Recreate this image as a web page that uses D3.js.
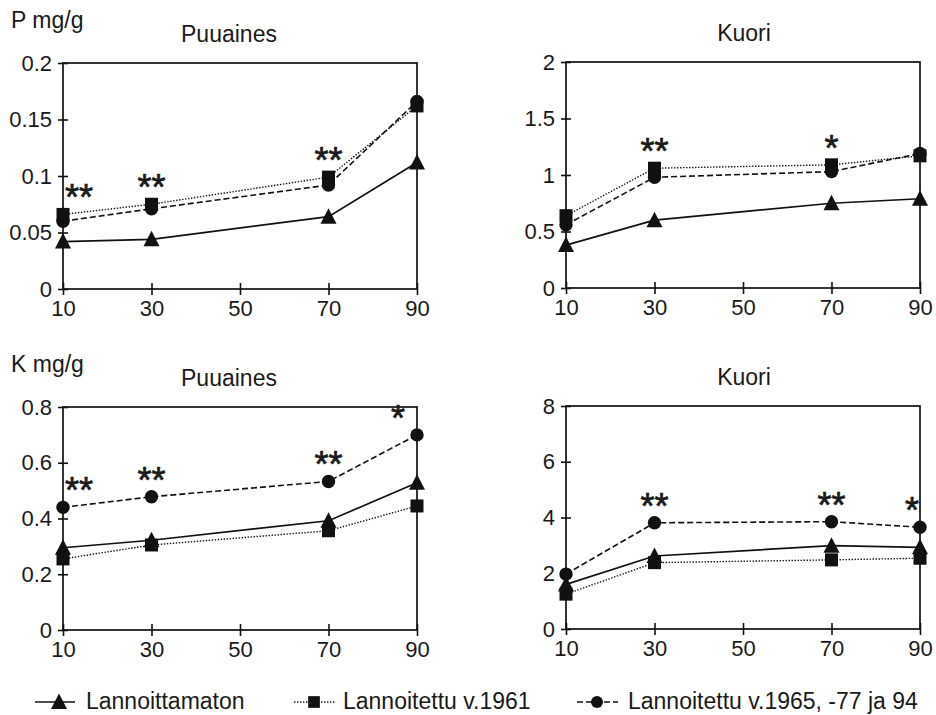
<!DOCTYPE html>
<html>
<head>
<meta charset="utf-8">
<script src="https://cdn.jsdelivr.net/npm/d3@7"></script>
<style>
  body { margin: 0; background: #fff; }
  text { font-family: "Liberation Sans", Arial, sans-serif; fill: #1a1a1a; }
</style>
</head>
<body>
<script>
// ---------------- DATA ----------------
const depths = [10, 30, 70, 90];
const xTicks = [10, 30, 50, 70, 90];
const seriesNames = ["Lannoittamaton", "Lannoitettu v.1961", "Lannoitettu v.1965, -77 ja 94"];
const panelTitles = ["Puuaines", "Kuori", "Puuaines", "Kuori"];
const unitLabels = ["P mg/g", "K mg/g"];

// P, wood (Puuaines)
const pWoodUnfert = [0.042, 0.044, 0.064, 0.112];
const pWood1961   = [0.066, 0.075, 0.099, 0.162];
const pWood1965   = [0.060, 0.071, 0.092, 0.166];
const pWoodTicks  = [0, 0.05, 0.1, 0.15, 0.2];
const pWoodSig    = ["**", "**", "**", ""];

// P, bark (Kuori)
const pBarkUnfert = [0.38, 0.60, 0.75, 0.79];
const pBark1961   = [0.64, 1.06, 1.09, 1.17];
const pBark1965   = [0.56, 0.98, 1.03, 1.19];
const pBarkTicks  = [0, 0.5, 1, 1.5, 2];
const pBarkSig    = ["", "**", "*", ""];

// K, wood (Puuaines)
const kWoodUnfert = [0.295, 0.322, 0.392, 0.528];
const kWood1961   = [0.255, 0.305, 0.356, 0.445];
const kWood1965   = [0.440, 0.478, 0.533, 0.700];
const kWoodTicks  = [0, 0.2, 0.4, 0.6, 0.8];
const kWoodSig    = ["**", "**", "**", "*"];

// K, bark (Kuori)
const kBarkUnfert = [1.60, 2.62, 2.99, 2.93];
const kBark1961   = [1.25, 2.38, 2.48, 2.54];
const kBark1965   = [1.97, 3.81, 3.85, 3.65];
const kBarkTicks  = [0, 2, 4, 6, 8];
const kBarkSig    = ["", "**", "**", "*"];

// ---------------- LAYOUT ----------------
const W = 936, H = 715;
const layouts = [
  { left: 63,  top: 63,  right: 417, bottom: 289, titleX: 229, unit: unitLabels[0], sigDx90: -14 },
  { left: 566, top: 62,  right: 920, bottom: 288, titleX: 744, unit: null,          sigDx90: -12 },
  { left: 63,  top: 407, right: 417, bottom: 630, titleX: 229, unit: unitLabels[1], sigDx90: -19 },
  { left: 566, top: 406, right: 920, bottom: 629, titleX: 744, unit: null,          sigDx90: -8 }
];
const panelData = [
  { series: [pWoodUnfert, pWood1961, pWood1965], ticks: pWoodTicks, sig: pWoodSig },
  { series: [pBarkUnfert, pBark1961, pBark1965], ticks: pBarkTicks, sig: pBarkSig },
  { series: [kWoodUnfert, kWood1961, kWood1965], ticks: kWoodTicks, sig: kWoodSig },
  { series: [kBarkUnfert, kBark1961, kBark1965], ticks: kBarkTicks, sig: kBarkSig }
];

const styles = [
  { dash: null,      width: 1.7, marker: "triangle" },
  { dash: "1.4,1.6", width: 1.4, marker: "square" },
  { dash: "6,3",     width: 1.6, marker: "circle" }
];
const ink = "#111";

function drawMarker(g, type, x, y, s) {
  if (type === "triangle") {
    g.append("path")
      .attr("d", `M${x},${y - 8.5*s} L${x + 8*s},${y + 7*s} L${x - 8*s},${y + 7*s} Z`)
      .attr("fill", ink);
  } else if (type === "square") {
    g.append("rect").attr("x", x - 6.5*s).attr("y", y - 6.5*s)
      .attr("width", 13*s).attr("height", 13*s).attr("fill", ink);
  } else {
    g.append("circle").attr("cx", x).attr("cy", y).attr("r", 6.7*s).attr("fill", ink);
  }
}

const svg = d3.select("body").append("svg").attr("width", W).attr("height", H);
svg.append("rect").attr("width", W).attr("height", H).attr("fill", "#fff");

layouts.forEach((L, i) => {
  const P = panelData[i];
  const x = d3.scaleLinear().domain([10, 90]).range([L.left, L.right]);
  const y = d3.scaleLinear().domain([0, d3.max(P.ticks)]).range([L.bottom, L.top]);
  const g = svg.append("g");

  // title
  g.append("text").attr("x", L.titleX).attr("y", L.top - 21)
    .attr("text-anchor", "middle").attr("font-size", 23).text(panelTitles[i]);
  if (L.unit) {
    g.append("text").attr("x", 11).attr("y", L.top - 35)
      .attr("font-size", 23).text(L.unit);
  }

  // frame
  g.append("rect").attr("x", L.left).attr("y", L.top)
    .attr("width", L.right - L.left).attr("height", L.bottom - L.top)
    .attr("fill", "none").attr("stroke", ink).attr("stroke-width", 1.7);

  // y axis
  const ya = g.append("g").attr("transform", `translate(${L.left},0)`)
    .call(d3.axisLeft(y).tickValues(P.ticks).tickFormat(d => String(d)).tickSize(5).tickPadding(6));
  ya.select(".domain").remove();
  ya.selectAll(".tick line").attr("x1", 5).attr("x2", -5).attr("stroke", ink).attr("stroke-width", 1.6);
  ya.selectAll(".tick text").attr("font-size", 22).attr("font-family", "Liberation Sans, Arial, sans-serif").attr("fill", "#1a1a1a");

  // x axis
  const xa = g.append("g").attr("transform", `translate(0,${L.bottom})`)
    .call(d3.axisBottom(x).tickValues(xTicks).tickFormat(d => String(d)).tickSize(6).tickPadding(5));
  xa.select(".domain").remove();
  xa.selectAll(".tick line").attr("y1", -6).attr("y2", 6).attr("stroke", ink).attr("stroke-width", 1.6);
  xa.selectAll(".tick text").attr("font-size", 22).attr("font-family", "Liberation Sans, Arial, sans-serif").attr("fill", "#1a1a1a");

  // lines
  const line = d3.line().x((d, j) => x(depths[j])).y(d => y(d));
  P.series.forEach((vals, s) => {
    const st = styles[s];
    g.append("path").datum(vals).attr("d", line)
      .attr("fill", "none").attr("stroke", ink).attr("stroke-width", st.width)
      .attr("stroke-dasharray", st.dash);
  });
  // markers
  [0, 2, 1].forEach(s => {
    P.series[s].forEach((v, j) => drawMarker(g, styles[s].marker, x(depths[j]), y(v), 1));
  });

  // significance stars
  P.sig.forEach((txt, j) => {
    if (!txt) return;
    const top = d3.max(P.series, ser => ser[j]);
    let dx = 0;
    if (depths[j] === 10) dx = 16;
    if (depths[j] === 90) dx = L.sigDx90;
    const cy = y(top) - 24;
    g.append("text").attr("x", x(depths[j]) + dx).attr("y", cy + 20)
      .attr("text-anchor", "middle").attr("font-size", 36)
      .attr("stroke", "#1a1a1a").attr("stroke-width", 0.7).text(txt);
  });
});

// legend
const legendItems = [
  { lx1: 35,  lx2: 75,  mx: 59,  tx: 86 },
  { lx1: 294, lx2: 335, mx: 314, tx: 343 },
  { lx1: 577, lx2: 618, mx: 597, tx: 628 }
];
const ly = 702;
legendItems.forEach((it, s) => {
  const st = styles[s];
  svg.append("line").attr("x1", it.lx1).attr("x2", it.lx2).attr("y1", ly).attr("y2", ly)
    .attr("stroke", ink).attr("stroke-width", st.width).attr("stroke-dasharray", st.dash);
  drawMarker(svg, st.marker, it.mx, ly, s === 0 ? 1 : 0.9);
  svg.append("text").attr("x", it.tx).attr("y", 709).attr("font-size", 23).text(seriesNames[s]);
});
</script>
</body>
</html>
